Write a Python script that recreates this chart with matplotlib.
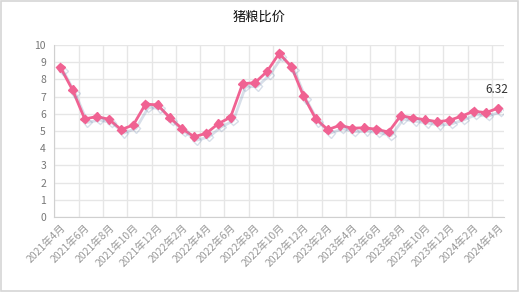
import numpy as np
import matplotlib.pyplot as plt
import matplotlib.patheffects as pe
from matplotlib.patches import Rectangle

plt.rcParams['font.family'] = ['Noto Sans CJK SC', 'DejaVu Sans']

months = ['2021年4月', '2021年5月', '2021年6月', '2021年7月', '2021年8月', '2021年9月',
          '2021年10月', '2021年11月', '2021年12月', '2022年1月', '2022年2月', '2022年3月',
          '2022年4月', '2022年5月', '2022年6月', '2022年7月', '2022年8月', '2022年9月',
          '2022年10月', '2022年11月', '2022年12月', '2023年1月', '2023年2月', '2023年3月',
          '2023年4月', '2023年5月', '2023年6月', '2023年7月', '2023年8月', '2023年9月',
          '2023年10月', '2023年11月', '2023年12月', '2024年1月', '2024年2月', '2024年3月',
          '2024年4月']
ratio = [8.70, 7.39, 5.70, 5.84, 5.68, 5.08, 5.35, 6.56, 6.52, 5.78, 5.14, 4.67,
         4.86, 5.43, 5.80, 7.76, 7.80, 8.46, 9.51, 8.75, 7.04, 5.72, 5.08, 5.33,
         5.16, 5.19, 5.10, 4.94, 5.89, 5.76, 5.66, 5.54, 5.62, 5.86, 6.15, 6.07,
         6.32]

x = np.arange(len(months))

fig = plt.figure(figsize=(5.19, 3.01), dpi=100)
fig.patches.append(Rectangle((0.5 / 519, 10 / 301), 517.5 / 519, 290.5 / 301,
                             transform=fig.transFigure, fill=False,
                             edgecolor='#d6d6d6', linewidth=1.2))
ax = fig.add_axes([54.3 / 519, 84 / 301, 449.7 / 519, 172 / 301])

pink = '#f06292'
ax.plot(x, ratio, color=pink, linewidth=2, marker='D', markersize=4.5,
        markeredgecolor=pink, zorder=3,
        path_effects=[pe.SimpleLineShadow(offset=(2, -2.5), shadow_color='#7f95b8', alpha=0.3),
                      pe.Normal()])

ax.annotate('6.32', (x[-1], ratio[-1]), xytext=(-1, 9), textcoords='offset points',
            ha='center', va='bottom', fontsize=8.5, color='#333333')

ax.set_xlim(-0.5, len(months) - 0.5)
ax.set_ylim(0, 10)
ax.set_yticks(range(0, 11))
ax.set_xticks(x[::2])
ax.set_xticklabels(months[::2], rotation=45, ha='right', rotation_mode='anchor')
ax.set_xticks(np.arange(-0.5, len(months), 2), minor=True)
ax.tick_params(axis='both', which='both', length=0, labelsize=7.5)
ax.tick_params(axis='x', pad=4, colors='#999999')
ax.tick_params(axis='y', pad=6, colors='#777777')
ax.grid(True, axis='y', color='#e6e6e6', linewidth=1)
ax.grid(True, axis='x', which='minor', color='#e6e6e6', linewidth=1)
ax.set_axisbelow(True)
for s in ['top', 'right']:
    ax.spines[s].set_visible(False)
for s in ['left', 'bottom']:
    ax.spines[s].set_color('#d0d0d0')

fig.text(0.5, 1 - 17 / 301, '猪粮比价', ha='center', va='center', fontsize=9.5, color='#111111')

fig.savefig('out.png', dpi=100)
